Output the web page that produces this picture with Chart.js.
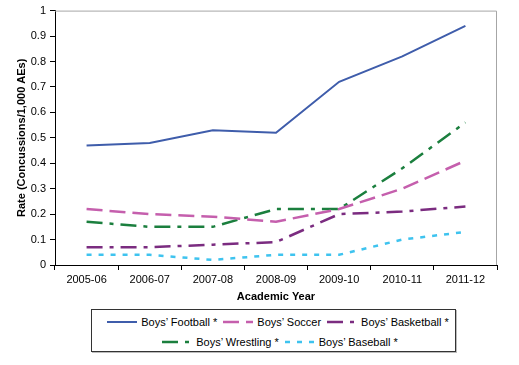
<!DOCTYPE html>
<html>
<head>
<meta charset="utf-8">
<script src="https://cdn.jsdelivr.net/npm/chart.js@4"></script>
<style>
  body{margin:0;background:#fff;font-family:"Liberation Sans",Arial,sans-serif;}
  #wrap{position:relative;width:519px;height:365px;}
  #legend{position:absolute;left:91px;top:309px;width:363px;height:41px;border:1px solid #333;
    box-shadow:1px 1px 0 #bbb;font-size:11px;color:#000;}
  .row{display:flex;justify-content:center;height:20px;align-items:center;white-space:nowrap;}
  .row:first-child{margin-top:2px;padding-left:9px;}
  .row:last-child{padding-left:13px;}
  .item{display:flex;align-items:center;margin:0 3px;flex-shrink:0;white-space:nowrap;}
  .item svg{margin-right:4px;flex-shrink:0;}
</style>
</head>
<body>
<div id="wrap">
  <canvas id="chart" width="519" height="305"></canvas>
  <div id="legend"></div>
</div>
<script>
// categorias
const years = ["2005-06","2006-07","2007-08","2008-09","2009-10","2010-11","2011-12"];

// tasas por deporte
const football   = [0.47, 0.48, 0.53, 0.52, 0.72, 0.82, 0.94];
const soccer     = [0.22, 0.20, 0.19, 0.17, 0.22, 0.30, 0.41];
const basketball = [0.07, 0.07, 0.08, 0.09, 0.20, 0.21, 0.23];
const wrestling  = [0.17, 0.15, 0.15, 0.22, 0.22, 0.38, 0.56];
const baseball   = [0.04, 0.04, 0.02, 0.04, 0.04, 0.10, 0.13];

const names = ["Boys’ Football *","Boys’ Soccer","Boys’ Basketball *","Boys’ Wrestling *","Boys’ Baseball *"];

const styles = [
  {c:"#3f5dab", w:2,   d:[]},
  {c:"#c55fad", w:2.5, d:[16,7]},
  {c:"#7b2c80", w:2.5, d:[16,7,4,7]},
  {c:"#1b7f3e", w:2.5, d:[16,7,4,7]},
  {c:"#3ec3ef", w:2.5, d:[5,7]}
];
const series = [football, soccer, basketball, wrestling, baseball];

const frame = {
  id:"frame",
  beforeDatasetsDraw(chart){
    const a = chart.chartArea, ctx = chart.ctx;
    ctx.save();
    ctx.strokeStyle = "#a6a6a6";
    ctx.lineWidth = 1;
    ctx.beginPath();
    ctx.moveTo(a.left, a.top+0.5);
    ctx.lineTo(a.right-0.5, a.top+0.5);
    ctx.lineTo(a.right-0.5, a.bottom);
    ctx.stroke();
    ctx.restore();
  }
};

Chart.defaults.font.family = "'Liberation Sans', Arial, sans-serif";
Chart.defaults.font.size = 11;
Chart.defaults.color = "#000";

new Chart(document.getElementById("chart"), {
  type: "line",
  data: {
    labels: years,
    datasets: series.map((d,i)=>({
      label: names[i],
      data: d,
      borderColor: styles[i].c,
      borderWidth: styles[i].w,
      borderDash: styles[i].d,
      pointRadius: 0,
      tension: 0,
      fill: false
    }))
  },
  options: {
    responsive: false,
    animation: false,
    layout: {padding: {left:0, right:22, top:10, bottom:0}},
    plugins: {legend:{display:false}, tooltip:{enabled:false}},
    scales: {
      x: {
        offset: true,
        grid: {offset:true, drawOnChartArea:false, tickLength:5, tickColor:"#000"},
        border: {color:"#000", width:1},
        ticks: {padding:3, maxRotation:0},
        title: {display:true, text:"Academic Year", font:{weight:"bold", size:11}, padding:{top:0,bottom:1}},
        afterFit: s => { s.height = 40; }
      },
      y: {
        min: 0, max: 1,
        ticks: {stepSize:0.1, padding:4, callback: v => String(Math.round(v*10)/10)},
        grid: {drawOnChartArea:false, tickLength:5, tickColor:"#000"},
        border: {color:"#000", width:1},
        title: {display:true, text:"Rate (Concussions/1,000 AEs)", font:{weight:"bold", size:11}, padding:{top:15,bottom:0}},
        afterFit: s => { s.width = 55; }
      }
    }
  },
  plugins: [frame]
});

// leyenda
const rows = [[0,1,2],[3,4]];
let html = "";
rows.forEach(r=>{
  html += "<div class='row'>";
  r.forEach(i=>{
    const s = styles[i];
    html += `<span class="item"><svg width="30" height="6"><line x1="0" y1="3" x2="30" y2="3" stroke="${s.c}" stroke-width="${s.w}" stroke-dasharray="${s.d.join(',')||'none'}"/></svg>${names[i]}</span>`;
  });
  html += "</div>";
});
document.getElementById("legend").innerHTML = html;
</script>
</body>
</html>
